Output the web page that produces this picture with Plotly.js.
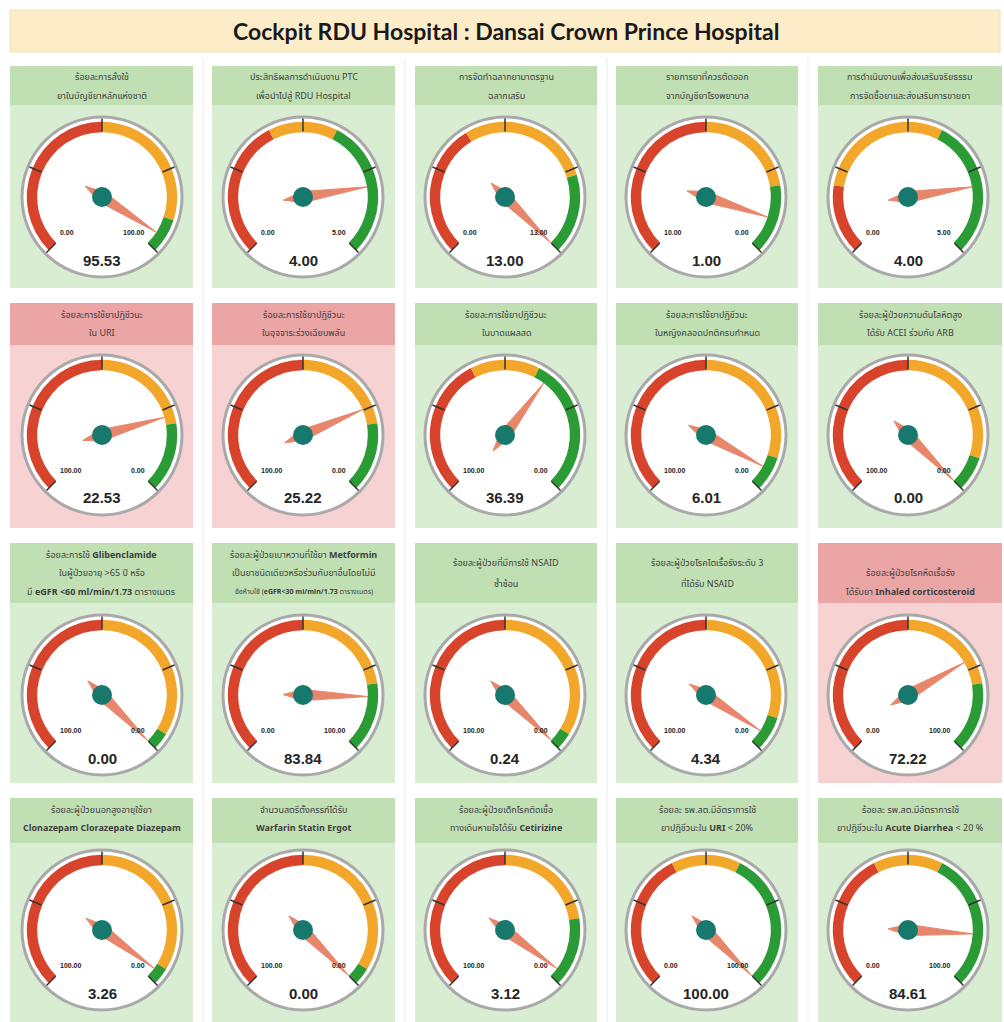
<!DOCTYPE html>
<html>
<head>
<meta charset="utf-8">
<script src="https://cdn.plot.ly/plotly-3.0.1.min.js"></script>
<style>
html,body{margin:0;padding:0;background:#ffffff;}
#chart{width:1004px;height:1022px;}
</style>
</head>
<body>
<div id="chart"></div>
<script>
// ---------------- DATA ----------------
const chartTitle = 'Cockpit RDU Hospital : Dansai Crown Prince Hospital';

const indicatorTitles = [
  ['ร้อยละการสั่งใช้', 'ยาในบัญชียาหลักแห่งชาติ'],
  ['ประสิทธิผลการดำเนินงาน PTC', 'เพื่อนำไปสู่ RDU Hospital'],
  ['การจัดทำฉลากยามาตรฐาน', 'ฉลากเสริม'],
  ['รายการยาที่ควรตัดออก', 'จากบัญชียาโรงพยาบาล'],
  ['การดำเนินงานเพื่อส่งเสริมจริยธรรม', 'การจัดซื้อยาและส่งเสริมการขายยา'],
  ['ร้อยละการใช้ยาปฏิชีวนะ', 'ใน URI'],
  ['ร้อยละการใช้ยาปฏิชีวนะ', 'ในอุจจาระร่วงเฉียบพลัน'],
  ['ร้อยละการใช้ยาปฏิชีวนะ', 'ในบาดแผลสด'],
  ['ร้อยละการใช้ยาปฏิชีวนะ', 'ในหญิงคลอดปกติครบกำหนด'],
  ['ร้อยละผู้ป่วยความดันโลหิตสูง', 'ได้รับ ACEI ร่วมกับ ARB'],
  ['ร้อยละการใช้ <b>Glibenclamide</b>', 'ในผู้ป่วยอายุ >65 ปี หรือ', 'มี <b>eGFR <60 ml/min/1.73</b> ตารางเมตร'],
  ['ร้อยละผู้ป่วยเบาหวานที่ใช้ยา <b>Metformin</b>', 'เป็นยาชนิดเดียวหรือร่วมกับยาอื่นโดยไม่มี', 'ข้อห้ามใช้ (<b>eGFR<30 ml/min/1.73</b> ตารางเมตร)'],
  ['ร้อยละผู้ป่วยที่มีการใช้ NSAID', 'ซ้ำซ้อน'],
  ['ร้อยละผู้ป่วยโรคไตเรื้อรังระดับ 3', 'ที่ได้รับ NSAID'],
  ['ร้อยละผู้ป่วยโรคหืดเรื้อรัง', 'ได้รับยา <b>Inhaled corticosteroid</b>'],
  ['ร้อยละผู้ป่วยนอกสูงอายุใช้ยา', '<b>Clonazepam Clorazepate Diazepam</b>'],
  ['จำนวนสตรีตั้งครรภ์ได้รับ', '<b>Warfarin Statin Ergot</b>'],
  ['ร้อยละผู้ป่วยเด็กโรคติดเชื้อ', 'ทางเดินหายใจได้รับ <b>Cetirizine</b>'],
  ['ร้อยละ รพ.สต.มีอัตราการใช้', 'ยาปฏิชีวนะใน <b>URI</b> < 20%'],
  ['ร้อยละ รพ.สต.มีอัตราการใช้', 'ยาปฏิชีวนะใน <b>Acute Diarrhea</b> < 20 %']
];

const gaugeValues = [95.53, 4.00, 13.00, 1.00, 4.00,
                     22.53, 25.22, 36.39, 6.01, 0.00,
                     0.00, 83.84, 0.24, 4.34, 72.22,
                     3.26, 0.00, 3.12, 100.00, 84.61];

// scale end shown at the lower-left and lower-right of each dial
const scaleLeft  = [0, 0, 0, 10, 0,   100, 100, 100, 100, 100,   100, 0, 100, 100, 0,   100, 100, 100, 0, 0];
const scaleRight = [100, 5, 13, 0, 5,   0, 0, 0, 0, 0,   0, 100, 0, 0, 100,   0, 0, 0, 100, 100];

// coloured zones [from, to] in value units
const redZone = [[0,50],[0,2],[0,5],[10,5],[0,1],
                 [100,50],[100,50],[100,60],[100,50],[100,50],
                 [100,50],[0,50],[100,50],[100,50],[0,50],
                 [100,50],[100,50],[100,50],[0,40],[0,40]];
const yellowZone = [[50,90],[2,3],[5,10],[5,2],[1,3],
                    [50,20],[50,20],[60,40],[50,10],[50,10],
                    [50,5],[50,80],[50,5],[50,10],[50,80],
                    [50,5],[50,5],[50,20],[40,60],[40,60]];
const greenZone = [[90,100],[3,5],[10,13],[2,0],[3,5],
                   [20,0],[20,0],[40,0],[10,0],[10,0],
                   [5,0],[80,100],[5,0],[10,0],[80,100],
                   [5,0],[5,0],[20,0],[60,100],[60,100]];

// panels shown with a red background (indicator not passed)
const alertPanel = [false,false,false,false,false,
                    true,true,false,false,false,
                    false,false,false,false,true,
                    false,false,false,false,false];

// ---------------- STYLE / LAYOUT ----------------
const W = 1004, H = 1022;
const px = x => x / W;
const py = y => 1 - y / H;

const colBox = [[10,193],[212,395],[415,597],[616,798],[818,1002]];
const colCx  = [102, 303, 505, 706, 908];
const rowBox = [
  {top:66,  hdr:105, bottom:288, cy:197, lines2:[77,96]},
  {top:303, hdr:345, bottom:528, cy:435, lines2:[315,333]},
  {top:543, hdr:603, bottom:783, cy:695, lines2:[563,584], lines3:[555,573,592]},
  {top:798, hdr:843, bottom:1022, cy:930, lines2:[810,828]}
];
const R = 80;               // dial radius in px
const SWEEP = 270;          // dial sweep in degrees

const C = {
  red:'#d8442b', yellow:'#f2a62a', green:'#2b9b36',
  needle:'#e8866b', hub:'#17786d',
  bodyOk:'#d9edd2', hdrOk:'#c0e0b4',
  bodyBad:'#f7d2d2', hdrBad:'#eba5a5',
  rim:'#a9a9a9', tick:'#333333', text:'#262626', hdrText:'#3d3d3d'
};
const thaiFont = 'Noto Sans Thai, Tahoma, Noto Sans, DejaVu Sans, sans-serif';
const numFont = 'Liberation Sans, Arial, sans-serif';

const traces = [];
const layout = {
  width: W, height: H,
  margin: {l:0, r:0, t:0, b:0},
  paper_bgcolor: '#ffffff',
  showlegend: false,
  shapes: [],
  annotations: []
};

// title banner
layout.shapes.push({type:'rect', xref:'paper', yref:'paper', layer:'below',
  x0:px(10), x1:px(1000), y0:py(52), y1:py(10),
  fillcolor:'#fcecc7', line:{color:'#f1dfb4', width:1}});
layout.annotations.push({xref:'paper', yref:'paper', x:px(506), y:py(31),
  text:'<b>'+chartTitle+'</b>', showarrow:false, xanchor:'center', yanchor:'middle',
  font:{family:'Lato, Open Sans, sans-serif', size:23, color:'#1a1a1a'}});

// faint cell dividers
[203, 405, 607, 808].forEach(x => {
  layout.shapes.push({type:'line', xref:'paper', yref:'paper', layer:'below',
    x0:px(x), x1:px(x), y0:py(1022), y1:py(58), line:{color:'#ececec', width:1}});
});

function frac(i, v) {
  return (v - scaleLeft[i]) / (scaleRight[i] - scaleLeft[i]);
}
function ang(i, v) {
  return Math.max(0, Math.min(1, frac(i, v))) * SWEEP;
}

for (let i = 0; i < 20; i++) {
  const row = Math.floor(i / 5), col = i % 5;
  const rb = rowBox[row], cb = colBox[col];
  const cx = colCx[col], cy = rb.cy;
  const pk = i === 0 ? 'polar' : 'polar' + (i + 1);
  const bad = alertPanel[i];

  // panel body + header
  layout.shapes.push({type:'rect', xref:'paper', yref:'paper', layer:'below',
    x0:px(cb[0]), x1:px(cb[1]), y0:py(rb.bottom), y1:py(rb.top),
    fillcolor: bad ? C.bodyBad : C.bodyOk, line:{width:0}});
  layout.shapes.push({type:'rect', xref:'paper', yref:'paper', layer:'below',
    x0:px(cb[0]), x1:px(cb[1]), y0:py(rb.hdr), y1:py(rb.top),
    fillcolor: bad ? C.hdrBad : C.hdrOk, line:{width:0}});

  // header text lines
  const lines = indicatorTitles[i];
  let ys = lines.length === 3 ? rb.lines3 : rb.lines2;
  if (row === 2 && col === 4) ys = [573, 592];
  lines.forEach((t, k) => {
    const small = (i === 11 && k === 2);
    layout.annotations.push({xref:'paper', yref:'paper', x:px((cb[0]+cb[1])/2), y:py(ys[k]),
      text:t, showarrow:false, xanchor:'center', yanchor:'middle',
      font:{family:thaiFont, size: small ? 7 : 9, color:C.hdrText}});
  });

  // polar dial
  layout[pk] = {
    domain: {x:[px(cx - R), px(cx + R)], y:[py(cy + R), py(cy - R)]},
    bgcolor: '#ffffff',
    barmode: 'overlay',
    radialaxis: {visible:false, range:[0, 1]},
    angularaxis: {
      direction:'clockwise', rotation:225,
      showgrid:false, showline:true, linecolor:C.rim, linewidth:3,
      tickmode:'array', tickvals:[0, SWEEP/4, SWEEP/2, SWEEP*3/4, SWEEP],
      ticks:'inside', ticklen:13, tickwidth:1.5, tickcolor:C.tick,
      showticklabels:false
    }
  };

  // zones
  const zones = [redZone[i], yellowZone[i], greenZone[i]];
  const zc = [C.red, C.yellow, C.green];
  const zTheta = [], zWidth = [], zR = [], zBase = [];
  zones.forEach(z => {
    const a = ang(i, z[0]), b = ang(i, z[1]);
    zTheta.push((a + b) / 2);
    zWidth.push(Math.abs(b - a));
    zR.push(0.13);
    zBase.push(0.81);
  });
  traces.push({type:'barpolar', subplot:pk, r:zR, base:zBase, theta:zTheta, width:zWidth,
    marker:{color:zc, line:{width:0}}, hoverinfo:'skip'});

  // needle
  const a = ang(i, gaugeValues[i]);
  traces.push({type:'scatterpolar', subplot:pk, mode:'lines',
    r:[0.81, 0.07, 0.25, 0.07, 0.81],
    theta:[a, a + 90, a + 180, a - 90, a],
    fill:'toself', fillcolor:C.needle, line:{color:C.needle, width:1}, hoverinfo:'skip'});
  // hub
  traces.push({type:'scatterpolar', subplot:pk, mode:'markers', r:[0], theta:[0],
    marker:{size:20, color:C.hub}, hoverinfo:'skip', cliponaxis:false});

  // scale end labels
  layout.annotations.push({xref:'paper', yref:'paper', x:px(cx - 44), y:py(cy + 35),
    text:'<b>' + scaleLeft[i].toFixed(2) + '</b>', showarrow:false, xanchor:'left', yanchor:'middle',
    font:{family:numFont, size:7, color:'#222'}});
  layout.annotations.push({xref:'paper', yref:'paper', x:px(cx + 45), y:py(cy + 35),
    text:'<b>' + scaleRight[i].toFixed(2) + '</b>', showarrow:false, xanchor:'right', yanchor:'middle',
    font:{family:numFont, size:7, color:'#222'}});
  // value
  layout.annotations.push({xref:'paper', yref:'paper', x:px(cx), y:py(cy + 63),
    text:'<b>' + gaugeValues[i].toFixed(2) + '</b>', showarrow:false, xanchor:'center', yanchor:'middle',
    font:{family:numFont, size:15, color:C.text}});
}

Plotly.newPlot('chart', traces, layout, {displayModeBar:false, staticPlot:true});
</script>
</body>
</html>
